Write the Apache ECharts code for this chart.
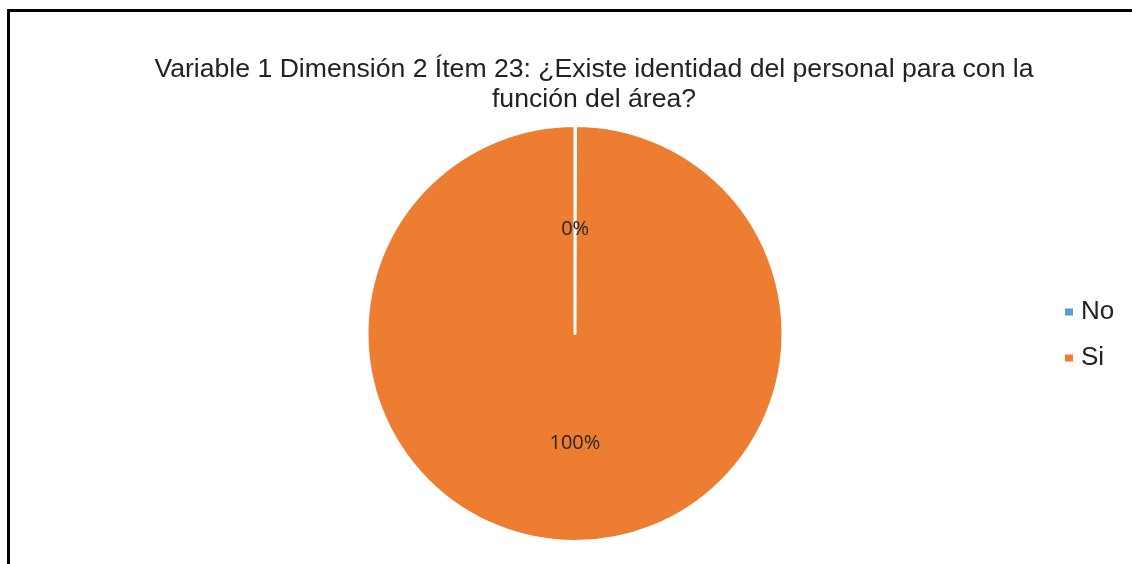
<!DOCTYPE html>
<html>
<head>
<meta charset="utf-8">
<script src="https://cdn.jsdelivr.net/npm/echarts@6/dist/echarts.min.js"></script>
<style>
  html, body { margin: 0; padding: 0; background: #fff; }
  #chart { position: absolute; left: 0; top: 0; width: 1132px; height: 564px; }
  #frame { position: absolute; left: 7px; top: 9px; width: 1130px; height: 560px;
           border-left: 3px solid #000; border-top: 3px solid #000; pointer-events: none; }
</style>
</head>
<body>
<div id="chart"></div>
<div id="frame"></div>
<script>
const titleText = 'Variable 1 Dimensión 2 Ítem 23: ¿Existe identidad del personal para con la\nfunción del área?';
const categories = ['No', 'Si'];
const percentages = [0, 100];
const colors = ['#5B9BD5', '#ED7D31'];

const chart = echarts.init(document.getElementById('chart'));

// the 0% slice only shows as a thin white split line, as in the original
const sliceColors = ['#ffffff', colors[1]];

const option = {
  animation: false,
  title: {
    text: titleText,
    left: 589,
    top: 50,
    textAlign: 'center',
    textStyle: {
      fontFamily: 'Liberation Sans, Arial',
      fontSize: 26.6,
      fontWeight: 'normal',
      color: '#222',
      lineHeight: 30
    }
  },
  legend: {
    orient: 'vertical',
    left: 1058,
    top: 294,
    itemWidth: 10,
    itemHeight: 9,
    itemGap: 20,
    icon: 'rect',
    data: categories.map((c, i) => ({ name: c, itemStyle: { color: colors[i] } })),
    textStyle: {
      fontFamily: 'Liberation Sans, Arial',
      fontSize: 26,
      color: '#222',
      padding: [0, 0, 0, 2]
    }
  },
  series: [{
    type: 'pie',
    center: [575, 333.5],
    radius: 208,
    startAngle: 90,
    clockwise: true,
    minAngle: 0.15,
    avoidLabelOverlap: false,
    label: {
      show: true,
      position: 'inside',
      formatter: '{c}%',
      fontFamily: 'Open Sans, Liberation Sans',
      fontSize: 20,
      color: '#262626',
      offset: [0, 3]
    },
    labelLine: { show: false },
    itemStyle: { borderColor: '#fff', borderWidth: 3 },
    emphasis: { disabled: true },
    data: categories.map((c, i) => ({
      name: c,
      value: percentages[i],
      itemStyle: { color: sliceColors[i] }
    }))
  }]
};

chart.setOption(option);
</script>
</body>
</html>
